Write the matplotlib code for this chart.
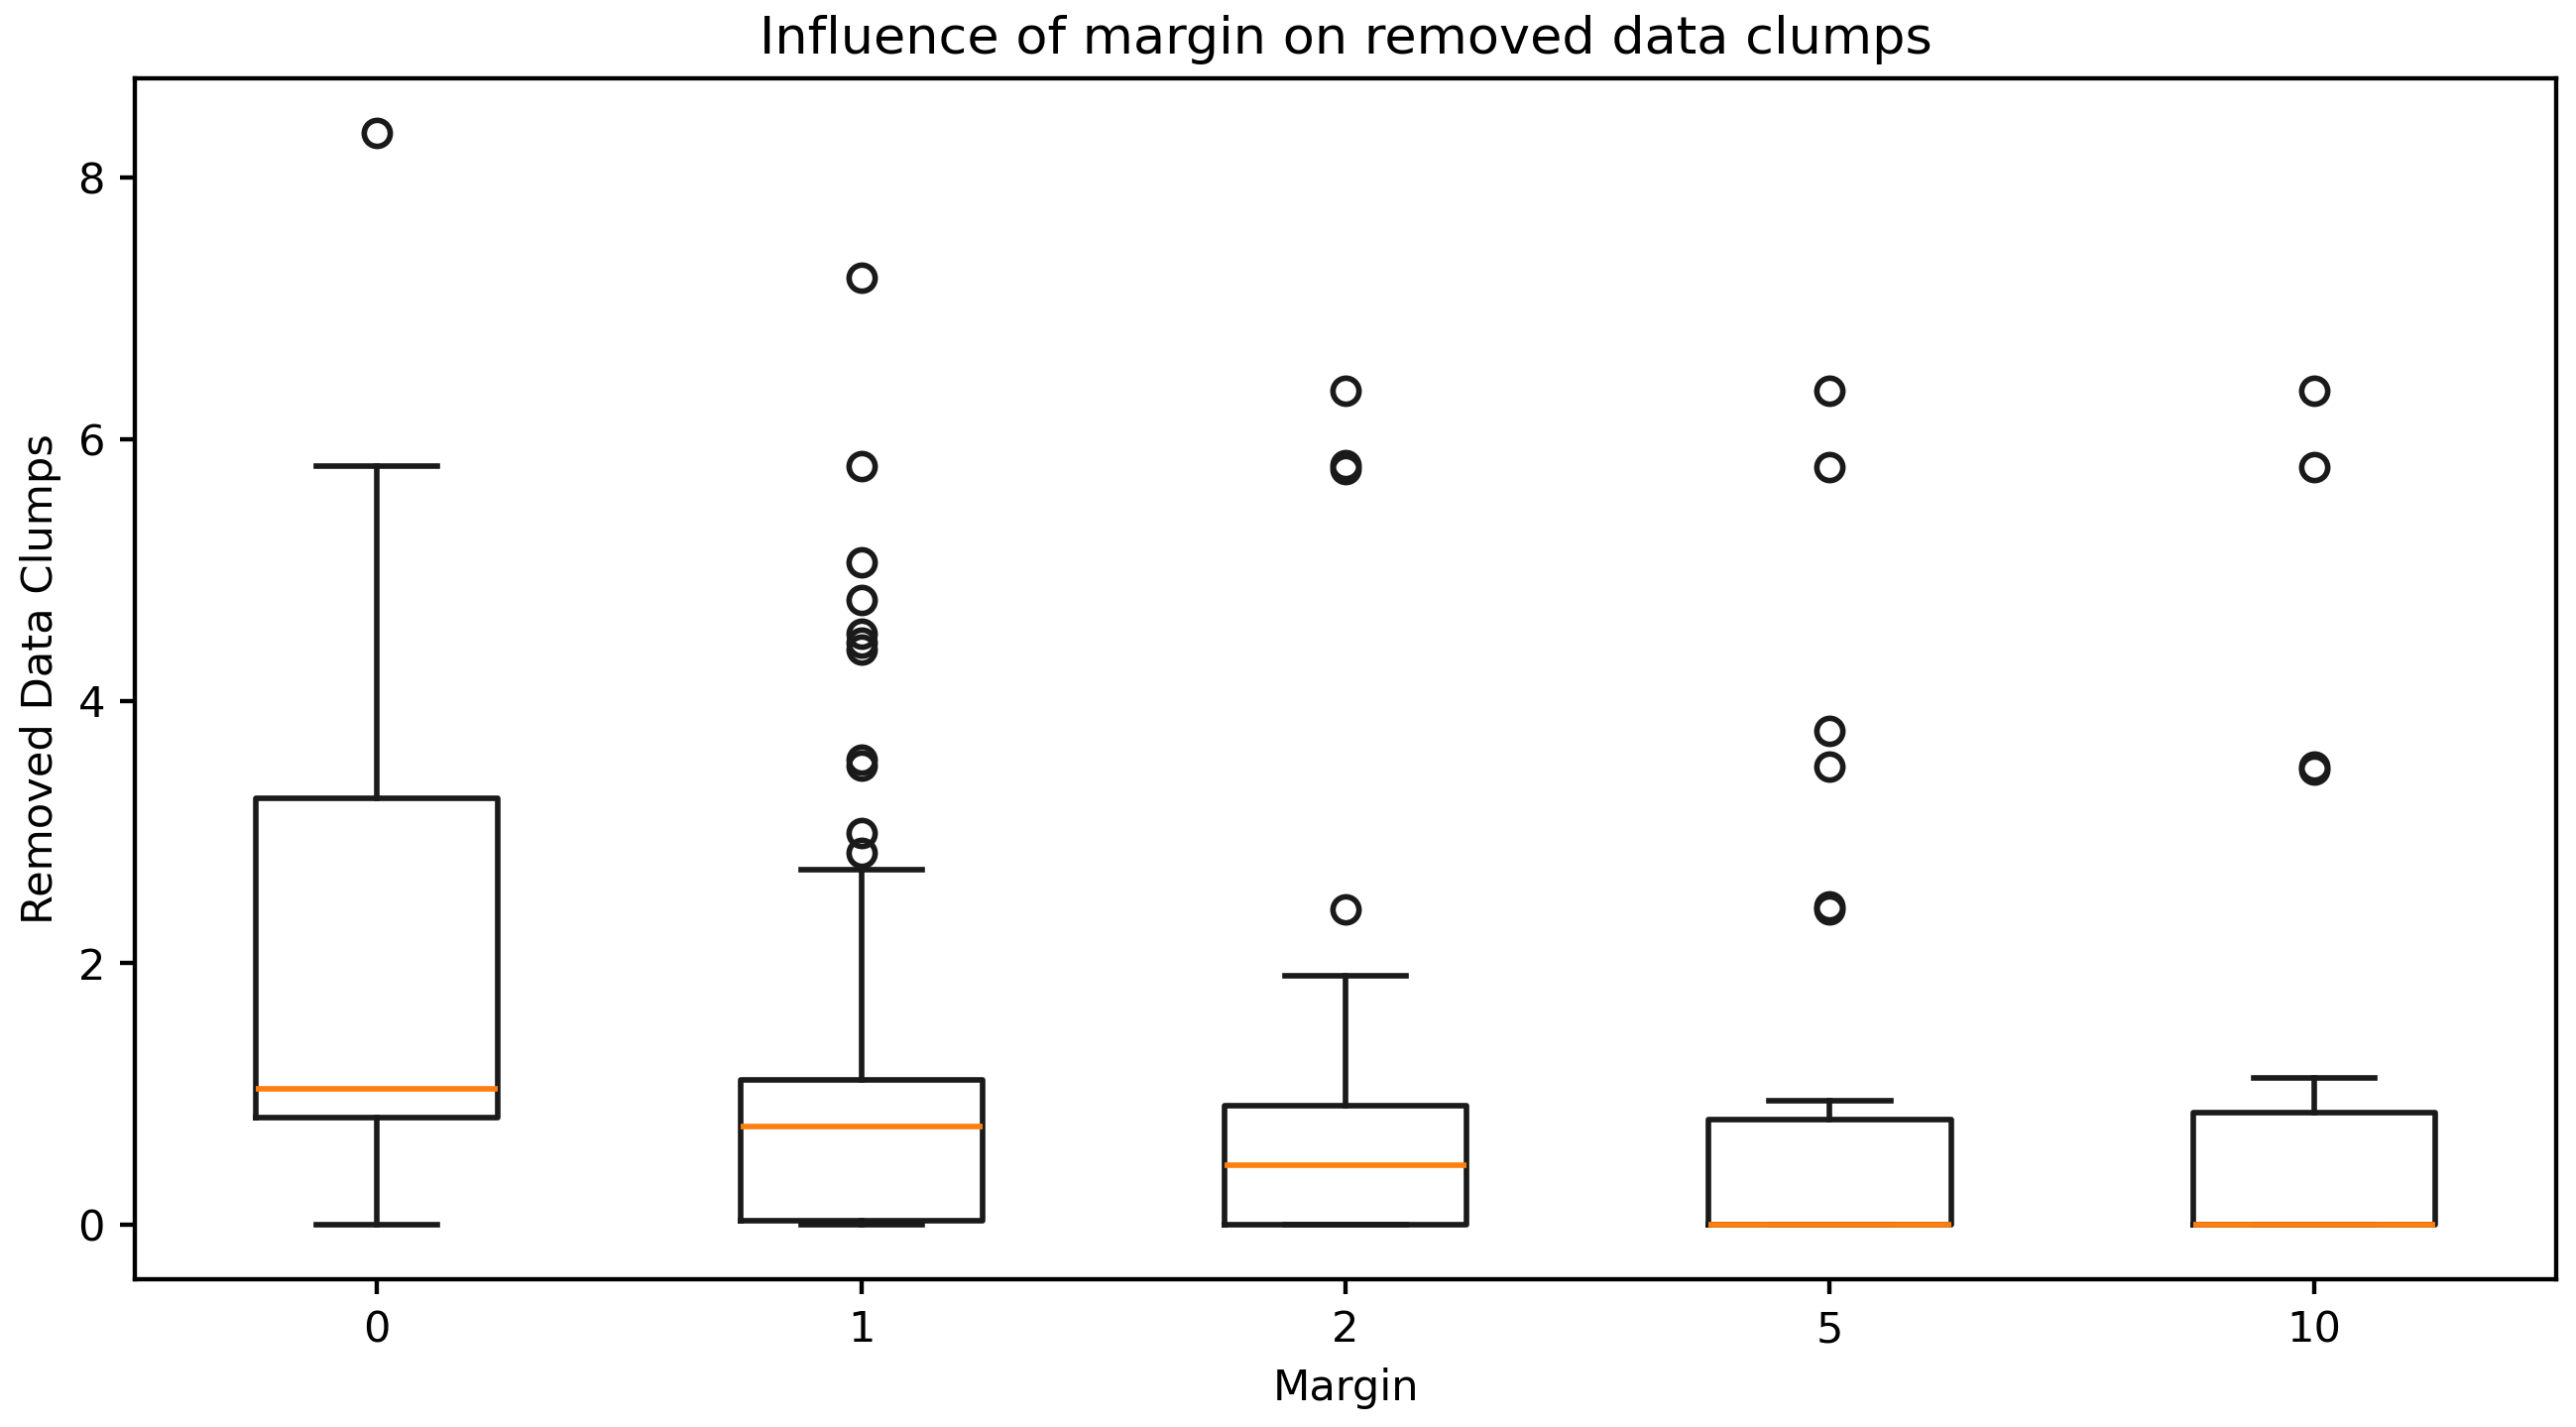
import matplotlib
matplotlib.use("Agg")
import matplotlib.pyplot as plt

# margin values on the x axis
margins = ['0', '1', '2', '5', '10']

# box statistics
q1 = [0.815, 0.032, 0.0, 0.0, 0.0]
med = [1.035, 0.747, 0.452, 0.0, 0.0]
q3 = [3.254, 1.108, 0.911, 0.804, 0.853]
whislo = [0.0, 0.0, 0.0, 0.0, 0.0]
whishi = [5.796, 2.709, 1.901, 0.949, 1.119]

# outliers per margin
fliers = [
    [8.34],
    [7.234, 5.793, 5.059, 4.769, 4.518, 4.448, 4.39, 3.55, 3.51, 2.99, 2.837],
    [6.369, 5.80, 5.77, 2.408],
    [6.369, 5.789, 3.77, 3.50, 2.43, 2.41],
    [6.369, 5.789, 3.50, 3.48],
]

stats = []
for i, m in enumerate(margins):
    stats.append({
        'label': m,
        'q1': q1[i],
        'med': med[i],
        'q3': q3[i],
        'whislo': whislo[i],
        'whishi': whishi[i],
        'fliers': fliers[i],
    })

plt.rcParams['font.size'] = 10.4
plt.rcParams['axes.titlesize'] = 12.6
plt.rcParams['axes.linewidth'] = 1.05
plt.rcParams['xtick.major.width'] = 1.05
plt.rcParams['ytick.major.width'] = 1.05
plt.rcParams['xtick.major.size'] = 3.7
plt.rcParams['ytick.major.size'] = 3.7

lw = 1.35
fig = plt.figure(figsize=(8.66, 4.7967), dpi=300)
ax = fig.add_axes([0.05235, 0.1035, 0.94, 0.8416])
ax.bxp(stats, showfliers=True,
       boxprops=dict(linewidth=lw, color='#1a1a1a'),
       whiskerprops=dict(linewidth=lw, color='#1a1a1a'),
       capprops=dict(linewidth=lw, color='#1a1a1a'),
       medianprops=dict(linewidth=lw, color='C1'),
       flierprops=dict(marker='o', markersize=6.3, markeredgewidth=lw,
                       markerfacecolor='none', markeredgecolor='#1a1a1a'))
ax.set_title('Influence of margin on removed data clumps')
ax.set_xlabel('Margin')
ax.set_ylabel('Removed Data Clumps')
fig.savefig('out.png', dpi=300)
